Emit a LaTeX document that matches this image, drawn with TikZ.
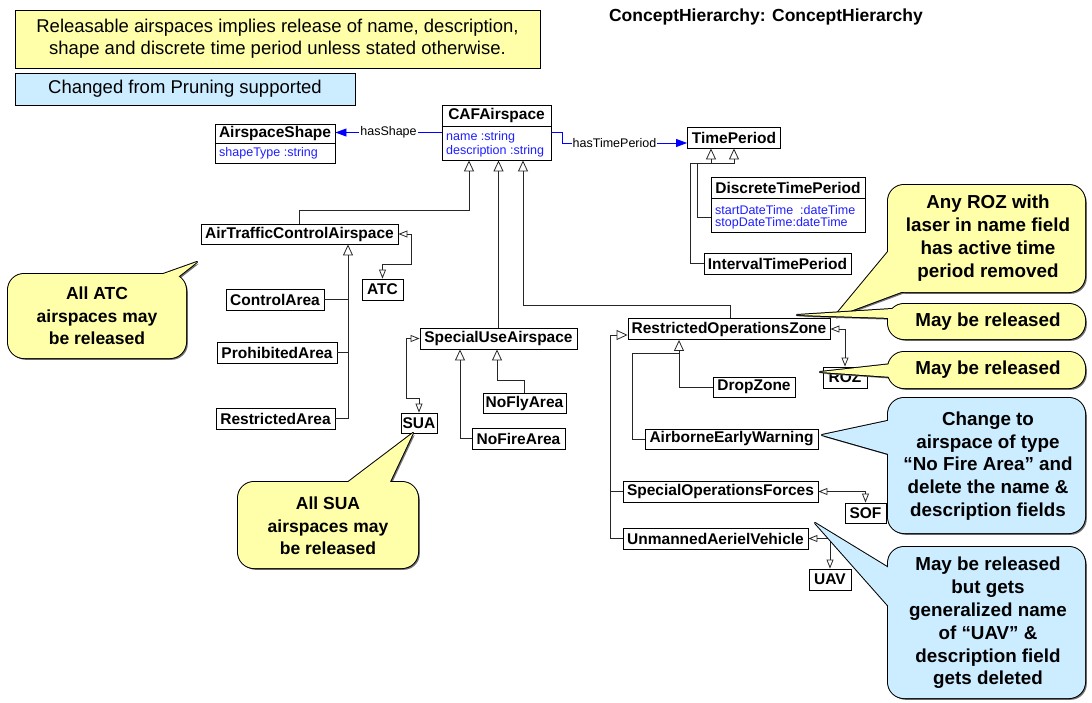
\documentclass[tikz,border=0pt]{standalone}
\usepackage{fontspec}
\setmainfont{Liberation Sans}
\usetikzlibrary{arrows.meta}
\definecolor{noteyellow}{HTML}{FFFFAA}
\definecolor{noteblue}{HTML}{CCECFF}
\definecolor{attrblue}{HTML}{1F1FFF}
\newcommand\mybubble[6]{%
  \begin{scope}[shift={(1.8,1.8)}]
  \fill[black!55, rounded corners=16pt] #2 rectangle #3;
  \fill[black!55] #4 -- #5 -- #6 -- cycle;
  \end{scope}
  \draw[line width=2pt, rounded corners=16pt] #2 rectangle #3;
  \draw[line width=2pt, line join=round] #4 -- #5 -- #6 -- cycle;
  \fill[#1, rounded corners=16pt] #2 rectangle #3;
  \fill[#1] #4 -- #5 -- #6 -- cycle;}
\begin{document}
\begin{tikzpicture}[x=1pt,y=-1pt,
  cls/.style={draw=black, line width=0.9pt, fill=white, inner sep=0pt,
    font=\fontsize{15.5}{18}\selectfont\bfseries},
  hdr/.style={inner sep=0pt, font=\fontsize{15.5}{18}\selectfont\bfseries},
  attr/.style={inner sep=0pt, anchor=west, text=attrblue, font=\fontsize{12.5}{14}\selectfont},
  lbl/.style={fill=white, inner sep=1pt, text=black, font=\fontsize{12.5}{14}\selectfont},
  gen/.style={draw=black!85, line width=0.8pt, -{Triangle[open,length=11pt,width=10pt]}},
  rel/.style={draw=black!85, line width=0.8pt,
    {Triangle[open,length=9pt,width=7pt]}-{Triangle[open,length=9pt,width=7pt]}},
  ln/.style={draw=black!85, line width=0.8pt},
  assoc/.style={draw=blue, line width=0.8pt, -{Triangle[length=11pt,width=8pt]}, blue},
  note/.style={draw=black, line width=1pt, inner sep=0pt, align=center,
    font=\fontsize{18.5}{22}\selectfont},
  ctext/.style={align=center, inner sep=0pt, font=\fontsize{17.5}{22.5}\selectfont\bfseries},
  rtext/.style={align=center, inner sep=0pt, font=\fontsize{18.8}{22.8}\selectfont\bfseries}
]
\useasboundingbox (0,0) rectangle (1092,702);

% title and notes
\node[font=\fontsize{17.5}{20}\selectfont\bfseries] (title) at (766,17) {ConceptHierarchy: ConceptHierarchy};
\node[note, fill=noteyellow, minimum width=525, minimum height=58] (note1) at (277.5,39)
  {Releasable airspaces implies release of name, description,\\shape and discrete time period unless stated otherwise.};
\node[note, fill=noteblue, minimum width=340, minimum height=32] (note2) at (185,89)
  {Changed from Pruning supported};

% CAFAirspace
\node[cls, minimum width=109, minimum height=55] (caf) at (496.5,132.5) {};
\node[hdr] (cafh) at (496.5,115.5) {CAFAirspace};
\coordinate (cafd) at (0,126);
\draw[line width=0.9pt] (caf.west |- cafd) -- (caf.east |- cafd);
\node[attr] (cafa1) at (446,137) {name :string};
\node[attr] (cafa2) at (446,151) {description :string};

% AirspaceShape
\node[cls, minimum width=120, minimum height=39] (shape) at (275,143.5) {};
\node[hdr] (shapeh) at (275,133.5) {AirspaceShape};
\coordinate (shaped) at (0,143);
\draw[line width=0.9pt] (shape.west |- shaped) -- (shape.east |- shaped);
\node[attr] (shapea1) at (219,153) {shapeType :string};

% TimePeriod family
\node[cls, minimum width=93, minimum height=21] (tp) at (734,137.5) {TimePeriod};
\node[cls, minimum width=154, minimum height=55] (dtp) at (788,204.5) {};
\node[hdr] (dtph) at (788,187.5) {DiscreteTimePeriod};
\coordinate (dtpd) at (0,198);
\draw[line width=0.9pt] (dtp.west |- dtpd) -- (dtp.east |- dtpd);
\node[attr] (dtpa1) at (715,210) {startDateTime\ \ :dateTime};
\node[attr] (dtpa2) at (715,223) {stopDateTime:dateTime};
\node[cls, minimum width=147, minimum height=21] (itp) at (777.5,263.5) {IntervalTimePeriod};

% ATC family
\node[cls, minimum width=197, minimum height=20] (atca) at (299.5,234) {AirTrafficControlAirspace};
\node[cls, minimum width=41, minimum height=21] (atc) at (382.5,289.5) {ATC};
\node[cls, minimum width=98, minimum height=21] (ctrl) at (275,299.5) {ControlArea};
\node[cls, minimum width=120, minimum height=21] (proh) at (277,352.5) {ProhibitedArea};
\node[cls, minimum width=119, minimum height=21] (restr) at (275.5,418.5) {RestrictedArea};

% SUA family
\node[cls, minimum width=157, minimum height=21] (suac) at (498.5,338.5) {SpecialUseAirspace};
\node[cls, minimum width=36, minimum height=20] (sua) at (419,423) {SUA};
\node[cls, minimum width=83, minimum height=20] (nofly) at (524.5,403) {NoFlyArea};
\node[cls, minimum width=93, minimum height=21] (nofire) at (518.5,438.5) {NoFireArea};

% ROZ family
\node[cls, minimum width=202, minimum height=21] (rozc) at (729,329) {RestrictedOperationsZone};
\node[cls, minimum width=44, minimum height=21] (roz) at (845,377.5) {ROZ};
\node[cls, minimum width=82, minimum height=20] (drop) at (754,387) {DropZone};
\node[cls, minimum width=173, minimum height=20] (aew) at (731.5,439) {AirborneEarlyWarning};
\node[cls, minimum width=195, minimum height=21] (sofc) at (720.5,491.5) {SpecialOperationsForces};
\node[cls, minimum width=41, minimum height=20] (sof) at (865.5,513) {SOF};
\node[cls, minimum width=185, minimum height=21] (uavc) at (715.5,538.5) {UnmannedAerielVehicle};
\node[cls, minimum width=42, minimum height=21] (uav) at (830,579.5) {UAV};

% associations
\draw[assoc] (caf.west) -- node[lbl, pos=0.5] (hasshape) {hasShape} (shape.east |- caf.west);
\coordinate (h1) at (562,143);
\draw[assoc] (caf.east) -| (h1) -- node[lbl, pos=0.42] (hastp) {hasTimePeriod} (h1 -| tp.west);

% generalizations to CAFAirspace
\coordinate (c1) at (469,210);
\draw[gen] (atca.north) |- (c1) -- (c1 |- caf.south);
\draw[gen] (suac.north) -- (suac.north |- caf.south);
\coordinate (c3) at (730,305);
\coordinate (c4) at (523,305);
\draw[gen] (c3 |- rozc.north) -- (c3) -- (c4) -- (c4 |- caf.south);

% TimePeriod
\coordinate (t0) at (697,217);
\coordinate (t1) at (697,163);
\coordinate (t2) at (711,163);
\draw[gen] (t0 -| dtp.west) -- (t0) -- (t1) -- (t2) -- (t2 |- tp.south);
\coordinate (t3) at (690,163);
\coordinate (t4) at (734,163);
\draw[gen] (itp.west) -| (t3) -- (t4) -- (t4 |- tp.south);

% ATC
\coordinate (a1) at (411,264);
\coordinate (a2) at (382.5,264);
\draw[rel] (atca.east) -| (a1) -- (a2) -- (atc.north);
\coordinate (v1) at (348,0);
\draw[gen] (restr.east) -| (v1 |- atca.south);
\draw[ln] (ctrl.east) -- (ctrl.east -| v1);
\draw[ln] (proh.east) -- (proh.east -| v1);

% SUA
\coordinate (s2) at (406,398);
\draw[rel] (suac.west) -| (s2) -| (sua.north);
\coordinate (n1) at (460,0);
\draw[gen] (nofire.west) -| (n1 |- suac.south);
\coordinate (n2) at (497,380);
\draw[gen] (nofly.north) |- (n2) -- (n2 |- suac.south);

% ROZ
\draw[rel] (rozc.east) -| (roz.north);
\coordinate (r1) at (679,0);
\draw[gen] (drop.west) -| (r1 |- rozc.south);
\coordinate (r2) at (632,353);
\draw[ln] (aew.west) -| (r2) -- (r2 -| r1);
\coordinate (r3) at (610,335);
\draw[gen] (uavc.west) -| (r3) -- (r3 -| rozc.west);
\draw[ln] (sofc.west) -- (sofc.west -| r3);
\draw[rel] (sofc.east) -| (sof.north);
\draw[rel] (uavc.east) -| (uav.north);

% callouts
\mybubble{noteyellow}{(8,274)}{(186,358)}{(152,278)}{(197,262)}{(174,280)}
\node[ctext] (cATC) at (97,316) {All ATC\\airspaces may\\be released};

\mybubble{noteyellow}{(238,482)}{(418,568)}{(343,486)}{(413,433)}{(388,486)}
\node[ctext] (cSUA) at (328,526) {All SUA\\airspaces may\\be released};

\mybubble{noteyellow}{(888,185)}{(1085,292)}{(892,247)}{(834,317)}{(912,288)}
\node[rtext] (cROZ) at (988,238) {Any ROZ with\\laser in name field\\has active time\\period removed};

\mybubble{noteyellow}{(888,304)}{(1085,339)}{(892,309)}{(797,315)}{(892,318)}
\node[rtext] (cMBR1) at (988,322) {May be released};

\mybubble{noteyellow}{(888,352)}{(1085,388)}{(892,364)}{(820,372)}{(892,377)}
\node[rtext] (cMBR2) at (988,370) {May be released};

\mybubble{noteblue}{(888,398)}{(1085,533)}{(892,420)}{(822,435)}{(892,455)}
\node[rtext] (cNFA) at (988,466) {Change to\\airspace of type\\“No Fire Area” and\\delete the name \&\\description fields};

\mybubble{noteblue}{(888,547)}{(1085,698)}{(892,570)}{(815,523)}{(892,610)}
\node[rtext] (cUAV) at (988,623) {May be released\\but gets\\generalized name\\of “UAV” \&\\description field\\gets deleted};
\end{tikzpicture}
\end{document}
